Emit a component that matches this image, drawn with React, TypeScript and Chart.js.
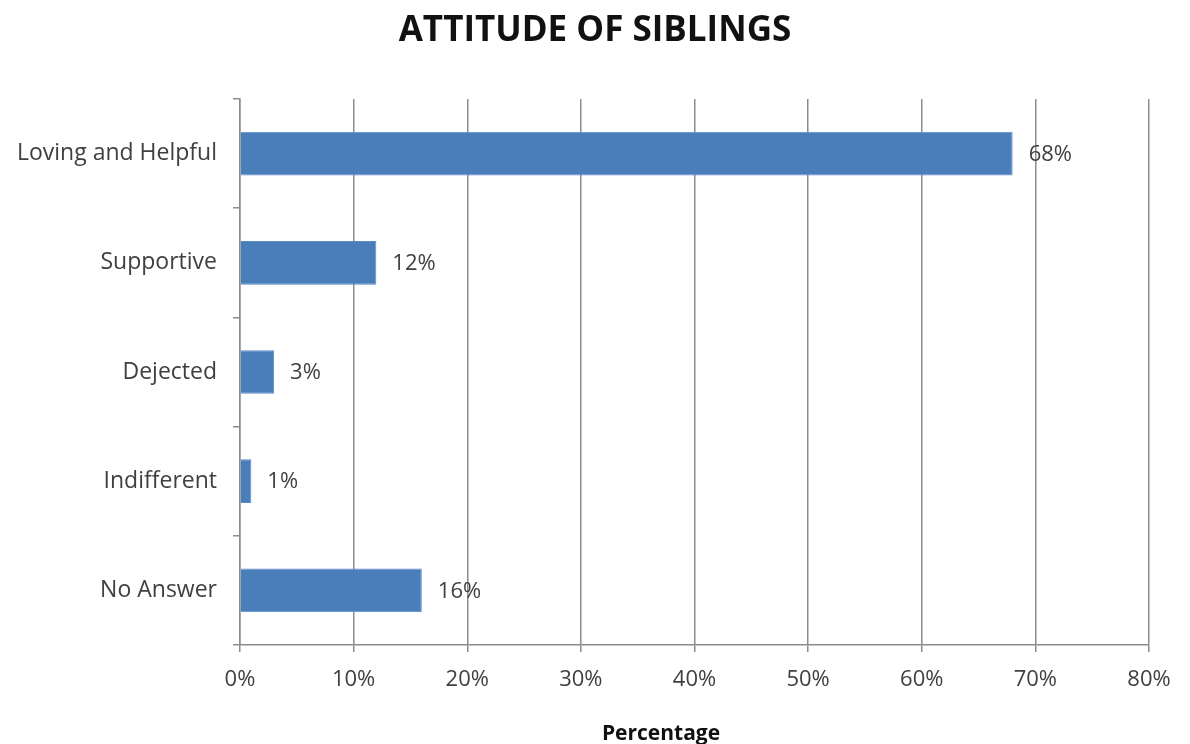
import React, { useEffect, useRef } from "react";
import { Chart, registerables } from "chart.js";

Chart.register(...registerables);

const categories = ["Loving and Helpful", "Supportive", "Dejected", "Indifferent", "No Answer"];
const percentages = [68, 12, 3, 1, 16];
const xTicks = [0, 10, 20, 30, 40, 50, 60, 70, 80];
const chartTitle = "ATTITUDE OF SIBLINGS";
const xAxisTitle = "Percentage";

const TEXT = "#404040";
const GRID = "#8c8c8c";
const FONT = "'Open Sans', 'DejaVu Sans', sans-serif";

// Value labels to the right of each bar, plus the chart and axis titles.
const annotations = {
  id: "annotations",
  afterDraw(chart: any) {
    const { ctx } = chart;
    const meta = chart.getDatasetMeta(0);
    ctx.save();
    ctx.fillStyle = TEXT;
    ctx.font = `22px ${FONT}`;
    ctx.textAlign = "left";
    ctx.textBaseline = "middle";
    meta.data.forEach((bar: any, i: number) => {
      ctx.fillText(`${percentages[i]}%`, bar.x + 16, bar.y + 1);
    });

    ctx.fillStyle = "#111";
    ctx.textAlign = "center";
    ctx.font = `bold 35px ${FONT}`;
    ctx.fillText(chartTitle, chart.width / 2, 31);

    ctx.font = `bold 21px ${FONT}`;
    ctx.fillText(xAxisTitle, 661, 734);
    ctx.restore();
  },
};

export default function App() {
  const ref = useRef<HTMLCanvasElement | null>(null);

  useEffect(() => {
    document.body.style.margin = "0";
    const chart = new Chart(ref.current as HTMLCanvasElement, {
      type: "bar",
      data: {
        labels: categories,
        datasets: [
          {
            data: percentages,
            backgroundColor: "#4A7EBB",
            borderColor: "#5B8CC6",
            borderWidth: 1,
            categoryPercentage: 1,
            barPercentage: 0.4,
          },
        ],
      },
      options: {
        indexAxis: "y",
        animation: false,
        responsive: false,
        maintainAspectRatio: false,
        layout: { padding: { top: 99, right: 41, bottom: 0, left: 0 } },
        plugins: {
          legend: { display: false },
          tooltip: { enabled: false },
          title: { display: false },
        },
        scales: {
          x: {
            type: "linear",
            min: 0,
            max: 80,
            afterBuildTicks(scale: any) {
              scale.ticks = xTicks.map((v) => ({ value: v }));
            },
            afterFit(scale: any) {
              scale.height = 99;
            },
            ticks: {
              color: TEXT,
              font: { family: FONT, size: 22 },
              padding: 15,
              callback: (v: any) => `${v}%`,
            },
            grid: {
              color: GRID,
              lineWidth: 1.5,
              tickLength: 7,
              drawOnChartArea: true,
            },
            border: { color: GRID, width: 1.5 },
          },
          y: {
            afterFit(scale: any) {
              scale.width = 240;
            },
            ticks: {
              color: TEXT,
              font: { family: FONT, size: 23 },
              padding: 16,
            },
            grid: {
              offset: true,
              drawOnChartArea: false,
              color: GRID,
              lineWidth: 1.5,
              tickLength: 7,
            },
            border: { color: GRID, width: 1.5 },
          },
        },
      },
      plugins: [annotations],
    });
    return () => chart.destroy();
  }, []);

  return (
    <div style={{ width: 1190, height: 744, background: "#fff" }}>
      <canvas ref={ref} width={1190} height={744} style={{ display: "block" }} />
    </div>
  );
}
